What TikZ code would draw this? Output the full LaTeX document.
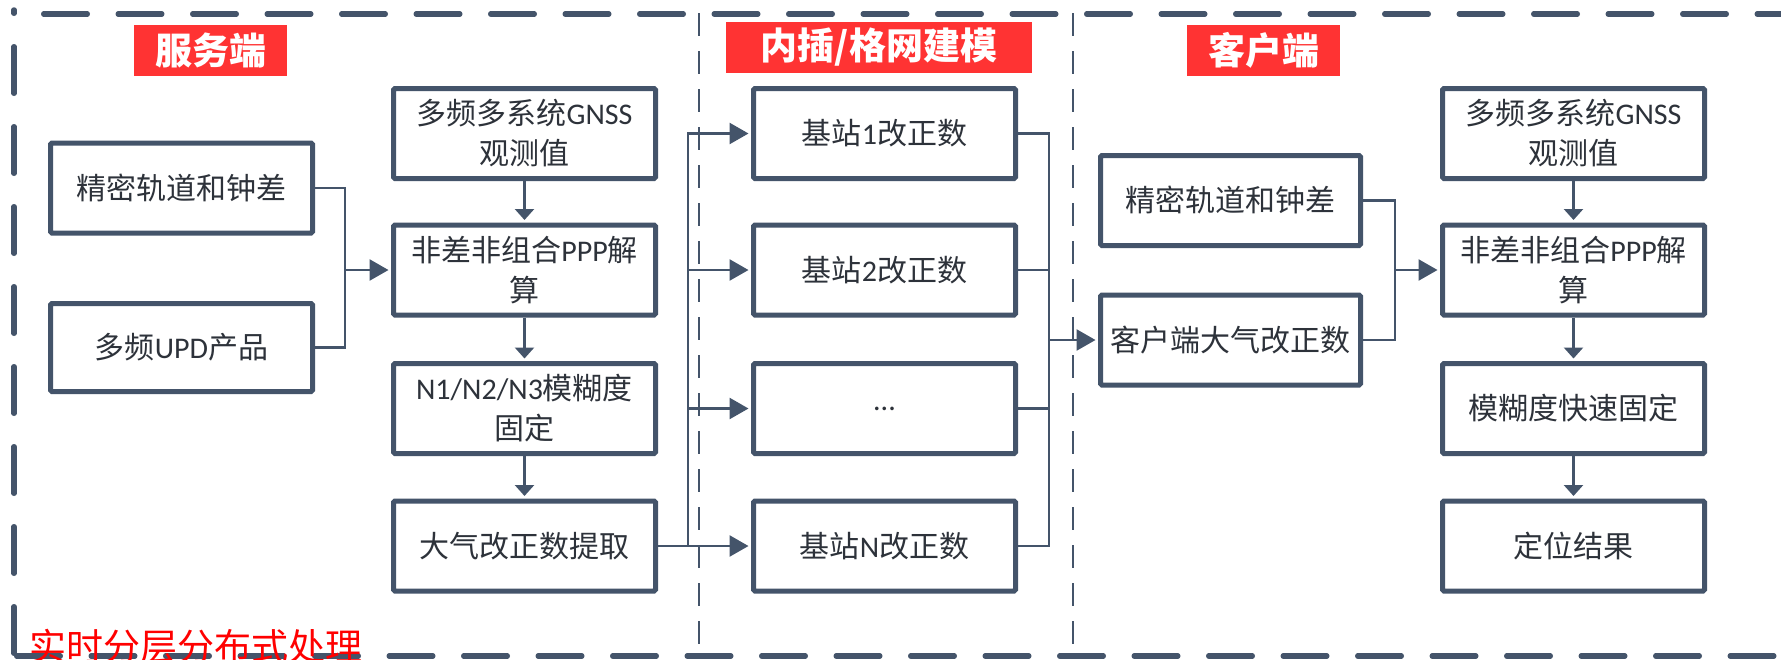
\documentclass[tikz,border=0pt]{standalone}
\usepackage{fontspec}
\setmainfont{Noto Sans CJK SC}
\newfontfamily\latf{Carlito}
\usetikzlibrary{arrows.meta}
\definecolor{slate}{RGB}{68,84,106}
\definecolor{txt}{RGB}{45,50,58}
\definecolor{tred}{RGB}{255,51,51}
\newcommand\Lt[1]{{\latf #1}}
\begin{document}
\begin{tikzpicture}[x=1pt,y=-1pt,
 box/.style={draw=slate,line width=5pt,fill=white,rounded corners=1.5pt,minimum width=262pt,minimum height=90pt,inner sep=0pt,align=center,text=txt,font=\fontsize{30}{40}\selectfont},
 title/.style={fill=tred,text=white,font=\fontsize{37}{40}\selectfont\bfseries,inner sep=0pt,minimum height=51pt},
 conn/.style={draw=slate,line width=2.5pt},
 harr/.style={conn,-{Triangle[length=19pt,width=21pt]},shorten >=2.5pt},
 varr/.style={conn,-{Triangle[length=11pt,width=19pt]},shorten >=2.5pt},
 outer/.style={draw=slate,line width=5.5pt,line cap=round},
 sepline/.style={draw=slate,line width=2.7pt,dash pattern=on 23pt off 15pt}]
\useasboundingbox (0,0) rectangle (1781,659);
\fill[white] (0,0) rectangle (1781,659);
% separators
\draw[sepline] (699,13) -- (699,656);
\draw[sepline] (1073,13) -- (1073,656);
% outer dashed frame
\draw[outer,dash pattern=on 43.5pt off 31pt] (43.75,14) -- (1800,14);
\draw[outer,dash pattern=on 43.5pt off 31pt] (16.75,656) -- (1800,656);
\draw[outer,dash pattern=on 46.5pt off 33.5pt] (14,653.25) -- (14,10);
% boxes
\node[box] (jm1) at (181.5,188) {精密轨道和钟差};
\node[box,minimum height=88pt] (upd) at (181.5,347.5) {多频\Lt{UPD}产品};
\node[box] (obs1) at (524.5,133.5) {多频多系统\Lt{GNSS}\\观测值};
\node[box] (ppp1) at (524.5,270) {非差非组合\Lt{PPP}解\\算};
\node[box] (amb1) at (524.5,408.5) {\Lt{N1/N2/N3}模糊度\\固定};
\node[box] (atm) at (524.5,546) {大气改正数提取};
\node[box] (s1) at (884.5,133.5) {基站\Lt{1}改正数};
\node[box] (s2) at (884.5,270) {基站\Lt{2}改正数};
\node[box] (s3) at (884.5,408.5) {\Lt{...}};
\node[box] (sn) at (884.5,546) {基站\Lt{N}改正数};
\node[box,minimum width=260pt] (jm2) at (1230.5,200.5) {精密轨道和钟差};
\node[box,minimum width=260pt] (kh) at (1230.5,340) {客户端大气改正数};
\node[box] (obs2) at (1573.5,133.5) {多频多系统\Lt{GNSS}\\观测值};
\node[box] (ppp2) at (1573.5,270) {非差非组合\Lt{PPP}解\\算};
\node[box] (amb2) at (1573.5,408.5) {模糊度快速固定};
\node[box] (res) at (1573.5,546) {定位结果};
% connectors server
\coordinate (j1) at (345,270);
\draw[conn] (jm1.east) -| (j1);
\draw[conn] (upd.east) -| (j1);
\draw[harr] (j1) -- (ppp1.west);
\draw[varr] (obs1.south) -- (ppp1.north);
\draw[varr] (ppp1.south) -- (amb1.north);
\draw[varr] (amb1.south) -- (atm.north);
% to stations
\coordinate (j2) at (688,546);
\draw[harr] (atm.east) -- (sn.west);
\draw[harr] (j2) |- (s1.west);
\draw[harr] (j2) |- (s2.west);
\draw[harr] (j2) |- (s3.west);
% from stations
\coordinate (j3) at (1049,340);
\draw[conn] (s1.east) -| (j3);
\draw[conn] (s2.east) -| (j3);
\draw[conn] (s3.east) -| (j3);
\draw[conn] (sn.east) -| (j3);
\draw[harr] (j3) -- (kh.west);
% client
\coordinate (j4) at (1395,270);
\draw[conn] (jm2.east) -| (j4);
\draw[conn] (kh.east) -| (j4);
\draw[harr] (j4) -- (ppp2.west);
\draw[varr] (obs2.south) -- (ppp2.north);
\draw[varr] (ppp2.south) -- (amb2.north);
\draw[varr] (amb2.south) -- (res.north);
% titles
\node[title,minimum width=153pt] (t1) at (210.5,50.5) {服务端};
\node[title,minimum width=306pt] (t2) at (879,47.5) {内插/格网建模};
\node[title,minimum width=153pt] (t3) at (1263.5,50.5) {客户端};
\node[anchor=base west,text=red,font=\fontsize{37}{40}\selectfont,inner sep=0pt] (foot) at (29,660) {实时分层分布式处理};
\end{tikzpicture}
\end{document}
